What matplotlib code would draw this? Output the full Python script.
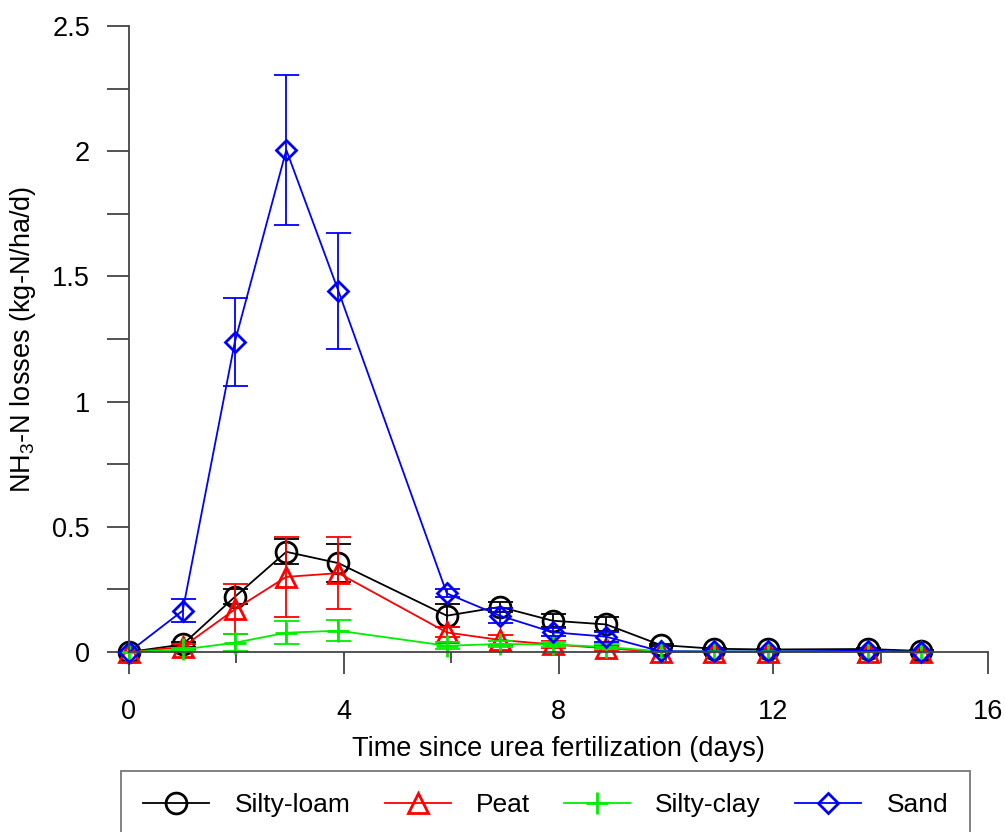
import numpy as np
import matplotlib
matplotlib.use("Agg")
import matplotlib.pyplot as plt
from matplotlib.ticker import MultipleLocator, FixedLocator, FormatStrFormatter

plt.rcParams['font.family'] = ['Liberation Sans', 'DejaVu Sans']
plt.rcParams['mathtext.fontset'] = 'custom'
plt.rcParams['mathtext.rm'] = 'Liberation Sans'

# days since fertilization
days = [0, 1.0, 1.97, 2.93, 3.9, 5.92, 6.91, 7.89, 8.89, 9.9, 10.9, 11.9, 13.77, 14.76]

silty_loam = [0, 0.03, 0.22, 0.40, 0.355, 0.145, 0.18, 0.125, 0.11, 0.028, 0.013, 0.01, 0.012, 0.004]
silty_loam_err = [0, 0.01, 0.03, 0.05, 0.075, 0.045, 0.02, 0.025, 0.028, 0.005, 0.003, 0.003, 0.003, 0.002]

peat = [0, 0.02, 0.17, 0.30, 0.315, 0.078, 0.048, 0.03, 0.015, 0, 0, 0, 0, 0]
peat_err = [0, 0.01, 0.10, 0.16, 0.145, 0.02, 0.02, 0.015, 0.01, 0, 0, 0, 0, 0]

silty_clay = [0, 0.01, 0.037, 0.077, 0.085, 0.025, 0.032, 0.03, 0.02, 0.003, 0.002, 0.002, 0.002, 0.001]
silty_clay_err = [0, 0.005, 0.033, 0.045, 0.043, 0.015, 0.012, 0.01, 0.01, 0, 0, 0, 0, 0]

sand = [0, 0.165, 1.237, 2.005, 1.442, 0.234, 0.145, 0.079, 0.061, 0.003, 0.002, 0.002, 0.005, 0.0]
sand_err = [0, 0.047, 0.175, 0.30, 0.23, 0.016, 0.03, 0.015, 0.02, 0, 0, 0, 0, 0]

series = [
    ("Silty-loam", silty_loam, silty_loam_err, "black", "o"),
    ("Peat", peat, peat_err, "#ff0000", "^"),
    ("Silty-clay", silty_clay, silty_clay_err, "#00ee00", "+"),
    ("Sand", sand, sand_err, "#0000ff", "D"),
]

fig = plt.figure(figsize=(10.05, 8.32), dpi=100)
ax = fig.add_axes([129/1005, 1 - 652/832, (988-129)/1005, (652-26)/832])

handles = []
for name, vals, err, col, mk in series:
    e = np.array(err, dtype=float)
    e[e == 0] = np.nan
    ax.errorbar(days, vals, yerr=e, fmt='none', ecolor=col, elinewidth=1.3,
                capsize=9, capthick=1.3, clip_on=False)
    ms = 10.5 if mk == "D" else 15
    if mk == "+":
        ms = 16
    h, = ax.plot(days, vals, color=col, lw=1.3, marker=mk, ms=ms,
                 mfc='none', mec=col, mew=2, clip_on=False)
    handles.append(h)

ax.set_xlim(0, 16)
ax.set_ylim(0, 2.5)
ax.xaxis.set_major_locator(MultipleLocator(4))
ax.xaxis.set_minor_locator(FixedLocator([2, 6, 10, 14]))
ax.yaxis.set_major_locator(MultipleLocator(0.5))
ax.yaxis.set_minor_locator(FixedLocator([0.25, 0.75, 1.25, 1.75, 2.25]))
ax.yaxis.set_major_formatter(FormatStrFormatter('%g'))

for s in ['top', 'right']:
    ax.spines[s].set_visible(False)
for s in ['left', 'bottom']:
    ax.spines[s].set_color('#444444')
    ax.spines[s].set_linewidth(1.3)

ax.tick_params(axis='both', which='major', direction='out', length=16, width=1.3,
               color='#444444', labelsize=19.5)
ax.tick_params(axis='x', which='major', pad=18)
ax.tick_params(axis='y', which='major', pad=12)
ax.tick_params(axis='x', which='minor', direction='out', length=8, width=1.3, color='#444444')
ax.tick_params(axis='y', which='minor', direction='out', length=16, width=1.3, color='#444444')

ax.set_xlabel("Time since urea fertilization (days)", fontsize=19.5, labelpad=8)
ax.set_ylabel(r"NH$_{\mathregular{3}}$-N losses (kg-N/ha/d)", fontsize=19.5, labelpad=10)

leg = fig.legend(handles, [s[0] for s in series], loc='upper left',
                 bbox_to_anchor=(121/1005, 1 - 771/832), ncol=4, fontsize=19,
                 handlelength=2.5, handletextpad=0.95, columnspacing=1.3,
                 borderpad=0.85, borderaxespad=0, fancybox=False, frameon=True)
leg.get_frame().set_edgecolor('#555555')
leg.get_frame().set_linewidth(1.3)

fig.savefig("out.png", dpi=100)
